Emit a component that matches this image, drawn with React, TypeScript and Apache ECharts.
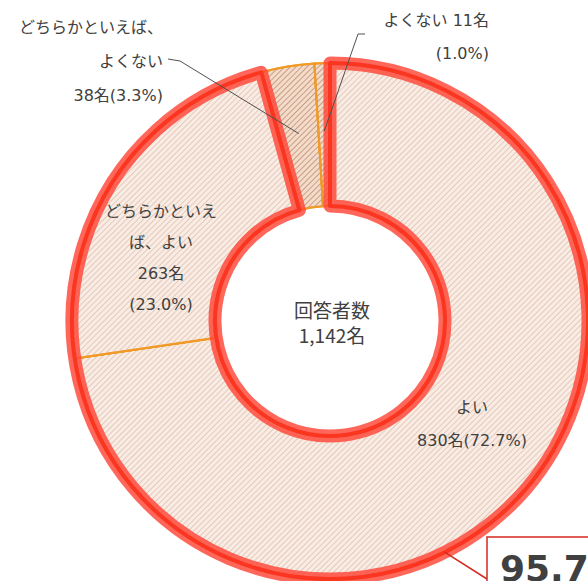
import React, { useEffect, useRef } from 'react';
import * as echarts from 'echarts';

// ---- data ----
const categories = ['よい', 'どちらかといえば、よい', 'どちらかといえば、よくない', 'よくない'];
const counts = [830, 263, 38, 11];
const percents = [72.7, 23.0, 3.3, 1.0];
const labelTexts = [
  'よい\n830名(72.7%)',
  'どちらかといえ\nば、よい\n263名\n(23.0%)',
  'どちらかといえば、\nよくない\n38名(3.3%)',
  'よくない 11名\n(1.0%)',
];
const centerLines = ['回答者数', '1,142名'];
const highlightCount = 2; // よい + どちらかといえば、よい

// ---- layout / style ----
const CX = 330;
const CY = 321;
const R0 = 115;
const R1 = 258;
const FONT = "'DejaVu Sans', 'Noto Sans CJK JP', sans-serif";

const labelAnchors = [
  { x: 472, y: 424, align: 'center', lh: 33 },
  { x: 161, y: 258, align: 'center', lh: 31 },
  { x: 163, y: 61, align: 'right', lh: 34 },
  { x: 489, y: 37, align: 'right', lh: 33 },
];
const leaderBends: Record<number, number[][]> = {
  2: [[180, 61], [168, 59]],
  3: [[358, 34], [365, 34]],
};

const total = counts.reduce((a, b) => a + b, 0);
function pointAt(frac: number, r: number) {
  const a = frac * 2 * Math.PI;
  return [CX + r * Math.sin(a), CY - r * Math.cos(a)];
}
function midFrac(i: number) {
  let s = 0;
  for (let k = 0; k < i; k++) s += counts[k];
  return (s + counts[i] / 2) / total;
}

const bigFill = {
  color: '#f9ece4',
  decal: {
    symbol: 'rect',
    symbolSize: 1,
    dashArrayX: [1, 0],
    dashArrayY: [1, 3],
    rotation: -Math.PI / 4,
    color: 'rgba(205,160,135,0.45)',
  },
};
const smallFill = {
  color: '#f3dccb',
  decal: {
    symbol: 'rect',
    symbolSize: 1,
    dashArrayX: [1, 0],
    dashArrayY: [1, 3],
    rotation: -Math.PI / 4,
    color: 'rgba(175,115,80,0.6)',
  },
};

export default function App() {
  const ref = useRef<HTMLDivElement>(null);
  useEffect(() => {
    if (!ref.current) return;
    const chart = echarts.init(ref.current, null, { renderer: 'svg' });
    const highlightValue = counts.slice(0, highlightCount).reduce((a, b) => a + b, 0);
    const restValue = total - highlightValue;
    const highlightPct = percents.slice(0, highlightCount).reduce((a, b) => a + b, 0).toFixed(1) + '%';

    const leaderGraphics = Object.keys(leaderBends).map((k) => {
      const i = Number(k);
      return {
        type: 'polyline',
        z: 100,
        shape: { points: [pointAt(midFrac(i), 190), ...leaderBends[i]] },
        style: { stroke: '#505050', lineWidth: 1, fill: 'none' },
      };
    });

    const boxFrac = 0.4267;
    const boxPt = pointAt(boxFrac, R1);

    const option: any = {
      animation: false,
      backgroundColor: '#ffffff',
      series: [
        {
          type: 'pie',
          center: [CX, CY],
          radius: [R0, R1],
          startAngle: 90,
          clockwise: true,
          silent: true,
          avoidLabelOverlap: false,
          z: 2,
          itemStyle: { borderColor: '#f09a28', borderWidth: 2 },
          label: {
            show: true,
            position: 'inside',
            color: '#404040',
            fontSize: 16,
            fontFamily: FONT,
          },
          labelLine: { show: false },
          labelLayout: (params: any) => {
            const a = labelAnchors[params.dataIndex];
            return { x: a.x, y: a.y, align: a.align, verticalAlign: 'middle' };
          },
          data: categories.map((name, i) => ({
            name,
            value: counts[i],
            itemStyle: i < highlightCount ? bigFill : smallFill,
            label: {
              formatter: labelTexts[i],
              lineHeight: labelAnchors[i].lh,
              align: labelAnchors[i].align,
            },
          })),
        },
        {
          type: 'pie',
          center: [CX, CY],
          radius: [R0, R1],
          startAngle: 90,
          silent: true,
          z: 3,
          label: { show: false },
          labelLine: { show: false },
          data: [
            { value: highlightValue, itemStyle: { color: 'rgba(0,0,0,0)', borderColor: 'rgba(255,70,55,0.82)', borderWidth: 13 } },
            { value: restValue, itemStyle: { color: 'rgba(0,0,0,0)', borderWidth: 0 } },
          ],
        },
        {
          type: 'pie',
          center: [CX, CY],
          radius: [R0, R1],
          startAngle: 90,
          silent: true,
          z: 4,
          label: { show: false },
          labelLine: { show: false },
          data: [
            { value: highlightValue, itemStyle: { color: 'rgba(0,0,0,0)', borderColor: '#fa3520', borderWidth: 4 } },
            { value: restValue, itemStyle: { color: 'rgba(0,0,0,0)', borderWidth: 0 } },
          ],
        },
      ],
      graphic: [
        ...leaderGraphics,
        {
          type: 'text',
          z: 100,
          x: CX + 2,
          y: CY + 1,
          style: {
            text: centerLines.join('\n'),
            fill: '#404040',
            fontSize: 19,
            lineHeight: 25,
            fontFamily: "'Noto Sans CJK JP', sans-serif",
            align: 'center',
            verticalAlign: 'middle',
          },
        },
        {
          type: 'line',
          z: 100,
          shape: { x1: boxPt[0], y1: boxPt[1], x2: 487, y2: 579 },
          style: { stroke: '#d42a20', lineWidth: 1.5 },
        },
        {
          type: 'rect',
          z: 100,
          shape: { x: 487, y: 537, width: 140, height: 80 },
          style: { fill: '#ffffff', stroke: '#d42a20', lineWidth: 1.5 },
        },
        {
          type: 'text',
          z: 101,
          x: 500,
          y: 550,
          style: {
            text: highlightPct,
            fill: '#404040',
            fontSize: 36,
            fontWeight: 'bold',
            fontFamily: "'DejaVu Sans', sans-serif",
            align: 'left',
            verticalAlign: 'top',
          },
        },
      ],
    };
    chart.setOption(option);
    return () => chart.dispose();
  }, []);
  return (
    <div
      ref={ref}
      style={{ position: 'absolute', left: 0, top: 0, width: 588, height: 581 }}
    />
  );
}
